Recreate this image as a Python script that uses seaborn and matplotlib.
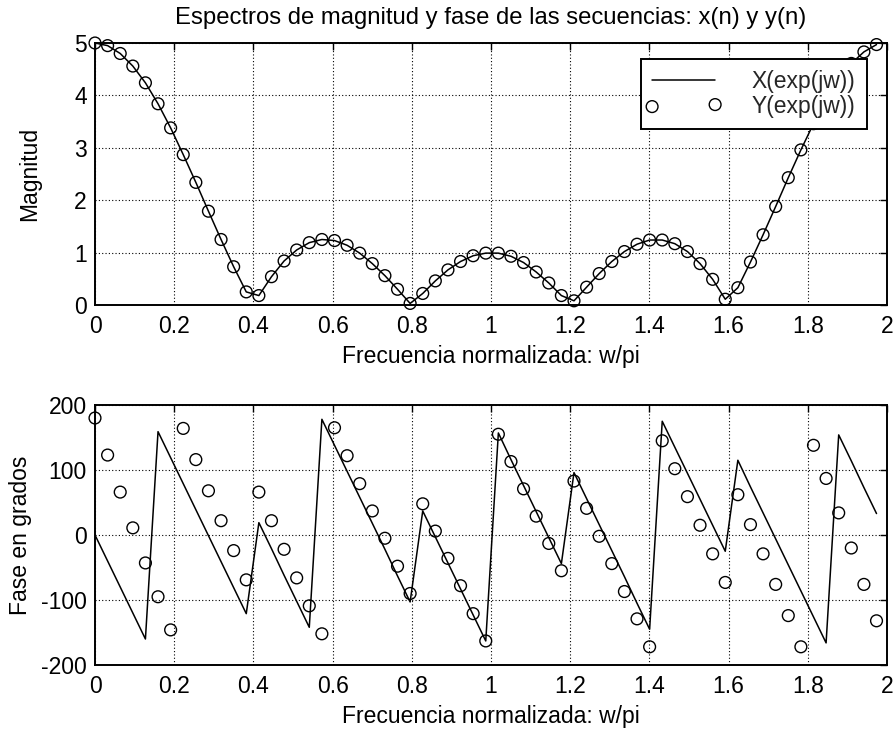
import numpy as np
import matplotlib
matplotlib.use('Agg')
import matplotlib.pyplot as plt
from matplotlib.collections import PathCollection
from matplotlib.legend_handler import HandlerPathCollection
import seaborn as sns

# Frequency samples (rad), w = 0:0.1:2*pi
w_rad = [0.0, 0.1, 0.2, 0.3, 0.4, 0.5, 0.6, 0.7, 0.8, 0.9,
         1.0, 1.1, 1.2, 1.3, 1.4, 1.5, 1.6, 1.7, 1.8, 1.9,
         2.0, 2.1, 2.2, 2.3, 2.4, 2.5, 2.6, 2.7, 2.8, 2.9,
         3.0, 3.1, 3.2, 3.3, 3.4, 3.5, 3.6, 3.7, 3.8, 3.9,
         4.0, 4.1, 4.2, 4.3, 4.4, 4.5, 4.6, 4.7, 4.8, 4.9,
         5.0, 5.1, 5.2, 5.3, 5.4, 5.5, 5.6, 5.7, 5.8, 5.9,
         6.0, 6.1, 6.2]

mag_X = [5.00, 4.95, 4.80, 4.56, 4.24, 3.84, 3.38, 2.87, 2.34, 1.79,
         1.25, 0.73, 0.25, 0.18, 0.54, 0.84, 1.05, 1.19, 1.25, 1.23,
         1.14, 0.99, 0.79, 0.56, 0.30, 0.03, 0.22, 0.46, 0.67, 0.83,
         0.94, 0.99, 0.99, 0.93, 0.81, 0.63, 0.42, 0.18, 0.08, 0.34,
         0.60, 0.83, 1.02, 1.16, 1.24, 1.24, 1.17, 1.02, 0.79, 0.49,
         0.11, 0.33, 0.82, 1.34, 1.88, 2.43, 2.96, 3.46, 3.91, 4.30,
         4.61, 4.83, 4.97]

mag_Y = [5.00, 4.95, 4.80, 4.56, 4.24, 3.84, 3.38, 2.87, 2.34, 1.79,
         1.25, 0.73, 0.25, 0.18, 0.54, 0.84, 1.05, 1.19, 1.25, 1.23,
         1.14, 0.99, 0.79, 0.56, 0.30, 0.03, 0.22, 0.46, 0.67, 0.83,
         0.94, 0.99, 0.99, 0.93, 0.81, 0.63, 0.42, 0.18, 0.08, 0.34,
         0.60, 0.83, 1.02, 1.16, 1.24, 1.24, 1.17, 1.02, 0.79, 0.49,
         0.11, 0.33, 0.82, 1.34, 1.88, 2.43, 2.96, 3.46, 3.91, 4.30,
         4.61, 4.83, 4.97]

phase_X = [0, -40, -80, -120, -160, 159, 119, 79, 39, -1,
           -41, -81, -121, 19, -21, -62, -102, -142, 178, 138,
           98, 58, 18, -22, -63, -103, 37, -3, -43, -83,
           -123, -163, 157, 116, 76, 36, -4, -44, 96, 56,
           16, -24, -64, -105, -145, 175, 135, 95, 55, 15,
           -25, 115, 74, 34, -6, -46, -86, -126, -166, 154,
           114, 73, 33]

phase_Y = [180, 123, 66, 11, -43, -95, -146, 164, 116, 68,
           22, -24, -69, 66, 22, -22, -66, -109, -152, 165,
           122, 79, 37, -5, -48, -90, 48, 6, -36, -78,
           -121, -163, 155, 113, 71, 29, -13, -55, 83, 41,
           -2, -44, -87, -129, -172, 145, 102, 59, 15, -29,
           -73, 62, 16, -29, -76, -124, -172, 138, 87, 34,
           -20, -76, -132]

x_ticks = [0, 0.2, 0.4, 0.6, 0.8, 1.0, 1.2, 1.4, 1.6, 1.8, 2.0]
x_ticklabels = ['0', '0.2', '0.4', '0.6', '0.8', '1', '1.2', '1.4', '1.6', '1.8', '2']
mag_ticks = [0, 1, 2, 3, 4, 5]
mag_ticklabels = ['0', '1', '2', '3', '4', '5']
ph_ticks = [-200, -100, 0, 100, 200]
ph_ticklabels = ['-200', '-100', '0', '100', '200']

title = 'Espectros de magnitud y fase de las secuencias: x(n) y y(n)'
xlabel = 'Frecuencia normalizada: w/pi'
legend_labels = ['X(exp(jw))', 'Y(exp(jw))']

sns.set_theme(style='white')
plt.rcParams['font.family'] = ['Liberation Sans', 'DejaVu Sans']
plt.rcParams['axes.unicode_minus'] = False
FS = 16.5

f_norm = np.array(w_rad) / np.pi

W, Hh = 896, 736
fig = plt.figure(figsize=(W / 100, Hh / 100), dpi=100)
fig.patch.set_facecolor('white')
ax1 = fig.add_axes([95 / W, 1 - 305 / Hh, 792 / W, 262 / Hh])
ax2 = fig.add_axes([95 / W, 1 - 665 / Hh, 792 / W, 260 / Hh])

panels = [
    (ax1, mag_X, mag_Y, mag_ticks, mag_ticklabels, (0, 5), 'Magnitud', 30),
    (ax2, phase_X, phase_Y, ph_ticks, ph_ticklabels, (-200, 200), 'Fase en grados', 21),
]

for ax, a, b, yt, ytl, ylim, ylab, ylab_x in panels:
    ax.set_facecolor('white')
    sns.lineplot(x=f_norm, y=a, ax=ax, color='black', lw=1.1,
                 label=legend_labels[0], legend=False, zorder=3)
    sns.scatterplot(x=f_norm, y=b, ax=ax, marker='o', s=72, facecolor='none',
                    edgecolor='black', linewidth=1.0, label=legend_labels[1],
                    legend=False, zorder=4, clip_on=False)
    ax.set_xlim(0, 2)
    ax.set_ylim(*ylim)
    ax.set_xticks(x_ticks)
    ax.set_xticklabels(x_ticklabels)
    ax.set_yticks(yt)
    ax.set_yticklabels(ytl)
    ax.grid(True, color='black', linestyle=(0, (1, 2)), linewidth=0.8)
    ax.set_axisbelow(True)
    ax.tick_params(direction='in', length=5, width=1, top=True, right=True,
                   colors='black', labelsize=FS, pad=6)
    ax.tick_params(axis='x', pad=7)
    for sp in ax.spines.values():
        sp.set_color('black')
        sp.set_linewidth(1.4)
        sp.set_visible(True)
        sp.set_zorder(5)
    ax.set_xlabel('')
    ax.set_ylabel('')
    bbox = ax.get_position()
    fig.text((bbox.x0 + bbox.x1) / 2, bbox.y0 - 52 / Hh, xlabel, ha='center', va='center',
             fontsize=FS, color='black')
    fig.text(ylab_x / W, (bbox.y0 + bbox.y1) / 2, ylab, rotation=90, ha='center',
             va='center', fontsize=FS, color='black')

leg = ax1.legend(loc='upper right', bbox_to_anchor=((867 - 95) / 792, (305 - 59) / 262),
                 borderaxespad=0, fontsize=FS, handlelength=2.75, handletextpad=1.6,
                 borderpad=0.5, labelspacing=0.05, scatterpoints=2, numpoints=1,
                 fancybox=False, framealpha=1, edgecolor='black', frameon=True,
                 handler_map={PathCollection: HandlerPathCollection(marker_pad=0.0)})
leg.get_frame().set_linewidth(1.4)
leg.set_zorder(10)

fig.text(491 / W, 1 - 18 / Hh, title, ha='center', va='center', fontsize=17.2, color='black')

fig.savefig('out.png', dpi=100, facecolor='white')
